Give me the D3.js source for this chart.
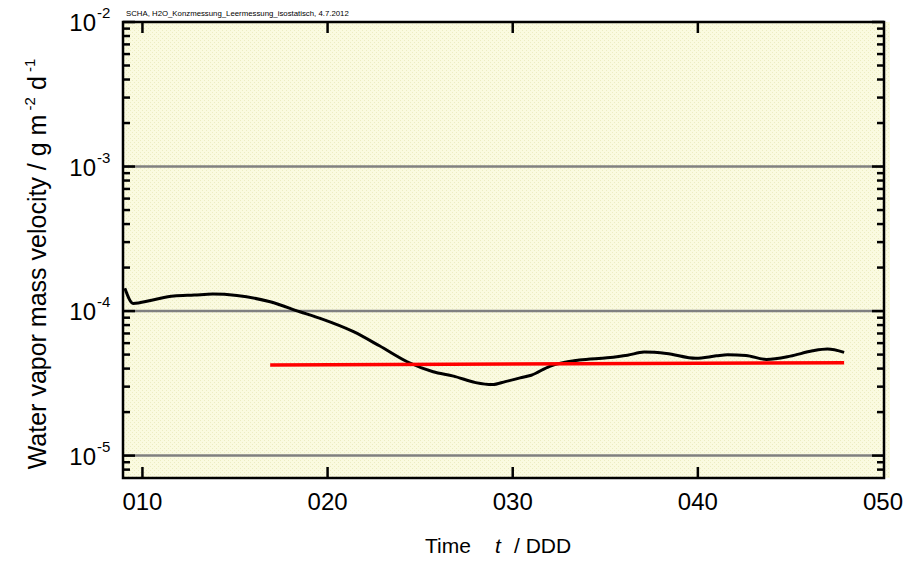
<!DOCTYPE html>
<html>
<head>
<meta charset="utf-8">
<script src="https://cdn.jsdelivr.net/npm/d3@7"></script>
<style>
  body { margin: 0; background: #fff; }
  svg { display: block; font-family: Arial, "Liberation Sans", sans-serif; }
</style>
</head>
<body>
<svg id="chart" width="906" height="562"></svg>
<script>
// measured curve: day of year vs. water vapor mass velocity
const days = [9.05, 9.5, 10.5, 11.7, 12.8, 13.8, 15.1, 16.9, 18.5, 19.6, 21.4, 22.8, 24.3, 25.7,
  26.8, 28.0, 28.9, 29.6, 30.4, 31.0, 32.0, 33.6, 35.1, 36.2, 37.1, 38.3, 39.9, 41.0, 41.6,
  42.6, 43.7, 45.0, 46.2, 47.0, 47.9];
const massVelocity = [1.44e-4, 1.13e-4, 1.19e-4, 1.27e-4, 1.29e-4, 1.31e-4, 1.28e-4, 1.16e-4,
  9.9e-5, 8.9e-5, 7.2e-5, 5.75e-5, 4.46e-5, 3.8e-5, 3.55e-5, 3.2e-5, 3.1e-5, 3.25e-5, 3.45e-5,
  3.6e-5, 4.15e-5, 4.58e-5, 4.75e-5, 4.95e-5, 5.2e-5, 5.09e-5, 4.71e-5, 4.9e-5, 4.99e-5,
  4.93e-5, 4.63e-5, 4.88e-5, 5.31e-5, 5.46e-5, 5.18e-5];

// fitted (red) line end points
const fitDays = [16.9, 47.9];
const fitValues = [4.23e-5, 4.39e-5];

const xTicks = [10, 20, 30, 40, 50];
const yMajor = [1e-5, 1e-4, 1e-3, 1e-2];
const yGrid = [1e-5, 1e-4, 1e-3];

const svg = d3.select("#chart");
const m = { left: 123, right: 884, top: 22, bottom: 478 };

const x = d3.scaleLinear().domain([8.95, 50]).range([m.left, 883]);
const y = d3.scaleLog().domain([7e-6, 1e-2]).range([m.bottom, m.top]);

// background with light hatch texture
const defs = svg.append("defs");
const pat = defs.append("pattern")
  .attr("id", "bgpat").attr("width", 4).attr("height", 4)
  .attr("patternUnits", "userSpaceOnUse");
pat.append("rect").attr("width", 4).attr("height", 4).attr("fill", "#fafae0");
pat.append("rect").attr("x", 0).attr("y", 0).attr("width", 1).attr("height", 1).attr("fill", "#ececc2");
pat.append("rect").attr("x", 2).attr("y", 2).attr("width", 1).attr("height", 1).attr("fill", "#ececc2");

svg.append("rect")
  .attr("x", m.left).attr("y", m.top)
  .attr("width", 890 - m.left).attr("height", m.bottom - m.top)
  .attr("fill", "url(#bgpat)");

// grid lines
svg.append("g").selectAll("line").data(yGrid).join("line")
  .attr("x1", m.left).attr("x2", m.right)
  .attr("y1", d => y(d)).attr("y2", d => y(d))
  .attr("stroke", "#808080").attr("stroke-width", 2.5);

// minor y values
const yMinor = [];
for (let e = -6; e <= -3; e++) {
  for (let k = 2; k <= 9; k++) {
    const v = k * Math.pow(10, e);
    if (v > 7.01e-6 && v < 1e-2) yMinor.push(v);
  }
}

const tickG = svg.append("g").attr("stroke", "#000").attr("stroke-width", 2.5);
// left & right y ticks (inside)
tickG.selectAll(".ylmaj").data(yMajor).join("line")
  .attr("x1", m.left).attr("x2", m.left + 12)
  .attr("y1", d => y(d)).attr("y2", d => y(d));
tickG.selectAll(".ylmin").data(yMinor).join("line")
  .attr("x1", m.left).attr("x2", m.left + 7)
  .attr("y1", d => y(d)).attr("y2", d => y(d));
tickG.selectAll(".yrmaj").data(yMajor).join("line")
  .attr("x1", m.right).attr("x2", m.right - 12)
  .attr("y1", d => y(d)).attr("y2", d => y(d));
tickG.selectAll(".yrmin").data(yMinor).join("line")
  .attr("x1", m.right).attr("x2", m.right - 7)
  .attr("y1", d => y(d)).attr("y2", d => y(d));
// top & bottom x ticks
tickG.selectAll(".xb").data(xTicks.slice(0, 4)).join("line")
  .attr("x1", d => x(d)).attr("x2", d => x(d))
  .attr("y1", m.bottom).attr("y2", m.bottom - 11);
tickG.selectAll(".xt").data(xTicks.slice(0, 4)).join("line")
  .attr("x1", d => x(d)).attr("x2", d => x(d))
  .attr("y1", m.top).attr("y2", m.top + 11);

// data lines
const line = d3.line().x(d => x(d[0])).y(d => y(d[1])).curve(d3.curveMonotoneX);
svg.append("path")
  .datum(days.map((d, i) => [d, massVelocity[i]]))
  .attr("d", line)
  .attr("fill", "none").attr("stroke", "#000").attr("stroke-width", 3);

svg.append("path")
  .datum(fitDays.map((d, i) => [d, fitValues[i]]))
  .attr("d", d3.line().x(d => x(d[0])).y(d => y(d[1])))
  .attr("fill", "none").attr("stroke", "#ff0000").attr("stroke-width", 3.5);

// frame
svg.append("rect")
  .attr("x", m.left).attr("y", m.top)
  .attr("width", m.right - m.left).attr("height", m.bottom - m.top)
  .attr("fill", "none").attr("stroke", "#000").attr("stroke-width", 2.5);

// y tick labels 10^n
const fmtExp = d => Math.round(Math.log10(d));
const yl = svg.append("g").attr("fill", "#000");
yMajor.forEach(v => {
  yl.append("text")
    .attr("x", 96).attr("y", y(v) + 9)
    .attr("text-anchor", "end").attr("font-size", 24)
    .text("10");
  yl.append("text")
    .attr("x", 97).attr("y", y(v) - 4)
    .attr("font-size", 15).text(fmtExp(v));
});

// x tick labels
svg.append("g").selectAll("text").data(xTicks).join("text")
  .attr("x", d => x(d)).attr("y", 510)
  .attr("text-anchor", "middle").attr("font-size", 24)
  .text(d => d3.format("03d")(d));

// axis titles
const xt = svg.append("text").attr("y", 553).attr("font-size", 21);
xt.append("tspan").attr("x", 425).text("Time");
xt.append("tspan").attr("x", 495).attr("font-style", "italic").text("t");
xt.append("tspan").attr("x", 514).text("/ DDD");

const yt = svg.append("text")
  .attr("transform", "translate(46,264) rotate(-90)")
  .attr("text-anchor", "middle").attr("font-size", 25);
yt.append("tspan").text("Water vapor mass velocity  / g m");
yt.append("tspan").attr("font-size", 15).attr("dy", -11).text(" -2");
yt.append("tspan").attr("dy", 11).text(" d");
yt.append("tspan").attr("font-size", 15).attr("dy", -11).text(" -1");

// small header note
svg.append("text")
  .attr("x", 126).attr("y", 16).attr("font-size", 7.8)
  .text("SCHA, H2O_Konzmessung_Leermessung_isostatisch, 4.7.2012");
</script>
</body>
</html>
